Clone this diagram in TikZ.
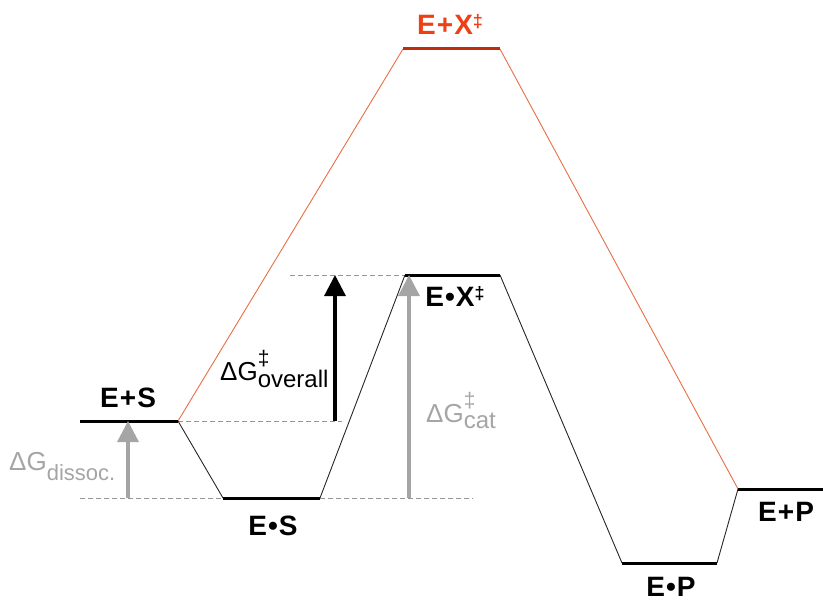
\documentclass[tikz,border=0pt]{standalone}
\usepackage{fontspec}
\setmainfont{Liberation Sans}
\usetikzlibrary{arrows.meta}
\definecolor{orangeR}{RGB}{238,64,20}
\definecolor{orangeL}{RGB}{232,110,70}
\definecolor{orangeD}{RGB}{190,45,15}
\definecolor{grayA}{RGB}{165,165,165}
\definecolor{grayD}{RGB}{150,150,150}
\tikzset{
  level/.style={line width=3pt},
  conn/.style={line width=0.9pt, black!85},
  oconn/.style={line width=0.9pt, orangeL},
  guide/.style={line width=0.9pt, grayD, dash pattern=on 5pt off 3pt},
  bigarrow/.style={line width=3.2pt, -{Triangle[width=21pt,length=21pt]}},
  lab/.style={font=\fontsize{28}{28}\selectfont\bfseries\addfontfeature{LetterSpace=4}, anchor=base, inner sep=0pt},
  dglab/.style={font=\fontsize{26}{26}\selectfont, anchor=base west, inner sep=0pt}
}
\newcommand{\myddag}{\raisebox{7pt}{\fontsize{18}{18}\selectfont ‡}}
\newcommand{\dgsup}[2]{ΔG\makebox[0pt][l]{\raisebox{15pt}{\fontsize{21}{21}\selectfont ‡}}\raisebox{-#2}{\fontsize{24}{24}\selectfont #1}}
\begin{document}
\begin{tikzpicture}[x=1pt,y=-1pt]
\useasboundingbox (0,0) rectangle (823,602);
% level endpoints
\coordinate (esL) at (80,421);  \coordinate (esR) at (178,421);
\coordinate (cL) at (223,498);  \coordinate (cR) at (320,498);
\coordinate (xL) at (405,275);  \coordinate (xR) at (500,275);
\coordinate (tL) at (403,49);   \coordinate (tR) at (500,49);
\coordinate (pL) at (622,563);  \coordinate (pR) at (717,563);
\coordinate (fL) at (738,489);  \coordinate (fR) at (823,489);
% guides
\coordinate (g1a) at (290,275);
\coordinate (g2b) at (342,421);
\coordinate (g3a) at (80,498); \coordinate (g3b) at (473,498);
\draw[guide] (g1a) -- (xL);
\draw[guide] (esR) -- (g2b);
\draw[guide] (g3a) -- (g3b);
% connectors
\draw[conn] (esR) -- (cL);
\draw[conn] (cR) -- (xL);
\draw[conn] (xR) -- (pL);
\draw[conn] (pR) -- (fL);
\draw[oconn] (esR) -- (tL);
\draw[oconn] (tR) -- (fL);
% levels
\draw[level] (esL) -- (esR);
\draw[level] (cL) -- (cR);
\draw[level] (xL) -- (xR);
\draw[level, orangeD] (tL) -- (tR);
\draw[level] (pL) -- (pR);
\draw[level] (fL) -- (fR);
% arrows
\coordinate (a1s) at (335,421); \coordinate (a1e) at (335,275);
\coordinate (a2s) at (409,498); \coordinate (a2e) at (409,275);
\coordinate (a3s) at (128,498); \coordinate (a3e) at (128,421);
\draw[bigarrow, black] (a1s) -- (a1e);
\draw[bigarrow, grayA] (a2s) -- (a2e);
\draw[bigarrow, grayA] (a3s) -- (a3e);
% labels
\node[lab, text=orangeR] (ltr) at (450,35) {E+X\myddag};
\node[lab] (les) at (128,407) {E+S};
\node[lab] (lc) at (273,535) {E•S};
\node[lab] (lx) at (455,306) {E•X\myddag};
\node[lab] (lp) at (671,596) {E•P};
\node[lab] (lf) at (786,521) {E+P};
\node[dglab] (dov) at (220,380) {\dgsup{overall}{7pt}};
\node[dglab, text=grayA] (dcat) at (426,422) {\dgsup{cat}{6pt}};
\node[dglab, text=grayA] (ddis) at (9,470) {ΔG\raisebox{-10pt}{\fontsize{22}{22}\selectfont dissoc.}};
\end{tikzpicture}
\end{document}
